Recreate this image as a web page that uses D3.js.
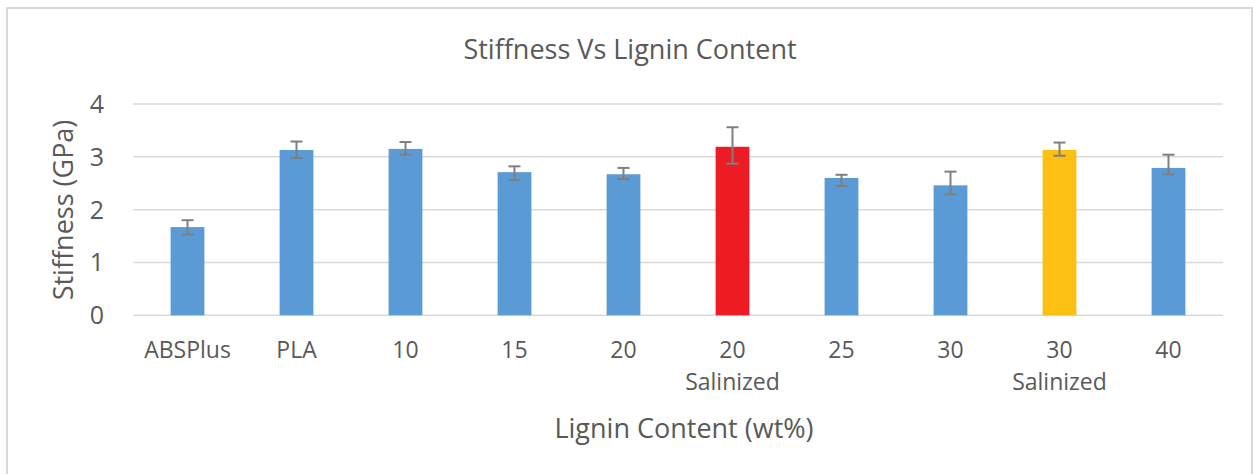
<!DOCTYPE html>
<html>
<head>
<meta charset="utf-8">
<script src="https://cdn.jsdelivr.net/npm/d3@7"></script>
<style>
  body { margin: 0; background: #fff; }
  svg text { font-family: "Open Sans", sans-serif; fill: #595959; }
</style>
</head>
<body>
<div id="chart"></div>
<script>
// data
var categories = ["ABSPlus", "PLA", "10", "15", "20", "20\nSalinized", "25", "30", "30\nSalinized", "40"];
var stiffness = [1.67, 3.13, 3.15, 2.71, 2.67, 3.19, 2.60, 2.46, 3.13, 2.79];
var errPlus   = [0.13, 0.16, 0.13, 0.11, 0.12, 0.37, 0.06, 0.26, 0.14, 0.25];
var errMinus  = [0.14, 0.15, 0.11, 0.15, 0.09, 0.32, 0.15, 0.17, 0.11, 0.12];
var barColors = ["#5B9BD5", "#5B9BD5", "#5B9BD5", "#5B9BD5", "#5B9BD5", "#ED1C24", "#5B9BD5", "#5B9BD5", "#FBC012", "#5B9BD5"];
var yTicks = [0, 1, 2, 3, 4];

var W = 1253, H = 474;
var svg = d3.select("#chart").append("svg").attr("width", W).attr("height", H);

// chart border
svg.append("rect").attr("x", 7).attr("y", 8).attr("width", 1245).attr("height", 480)
  .attr("fill", "none").attr("stroke", "#D9D9D9").attr("stroke-width", 2);

var x = d3.scaleBand().domain(d3.range(categories.length)).range([133, 1223]).paddingInner(0.69).paddingOuter(0.345);
var y = d3.scaleLinear().domain([0, 4]).range([315.3, 104]);

// gridlines
svg.append("g").selectAll("line").data(yTicks).join("line")
  .attr("x1", 133).attr("x2", 1223)
  .attr("y1", d => y(d)).attr("y2", d => y(d))
  .attr("stroke", "#D9D9D9").attr("stroke-width", 1.5);

// y tick labels
svg.append("g").selectAll("text").data(yTicks).join("text")
  .attr("x", 104).attr("y", d => y(d) + 9)
  .attr("text-anchor", "end").style("font-size", "25px")
  .text(d => d);

// bars
svg.append("g").selectAll("rect").data(stiffness).join("rect")
  .attr("x", (d, i) => x(i)).attr("width", x.bandwidth())
  .attr("y", d => y(d)).attr("height", d => y(0) - y(d))
  .attr("fill", (d, i) => barColors[i]);

// error bars
var eb = svg.append("g").attr("stroke", "#7F7F7F").attr("stroke-width", 2);
stiffness.forEach(function(v, i) {
  var cx = x(i) + x.bandwidth() / 2;
  var top = y(v + errPlus[i]), bot = y(v - errMinus[i]);
  eb.append("line").attr("x1", cx).attr("x2", cx).attr("y1", top).attr("y2", bot);
  eb.append("line").attr("x1", cx - 6).attr("x2", cx + 6).attr("y1", top).attr("y2", top);
  eb.append("line").attr("x1", cx - 6).attr("x2", cx + 6).attr("y1", bot).attr("y2", bot);
});

// x category labels
var xl = svg.append("g").selectAll("text").data(categories).join("text")
  .attr("text-anchor", "middle").style("font-size", "23px")
  .attr("transform", (d, i) => "translate(" + (x(i) + x.bandwidth() / 2) + ",358)");
xl.selectAll("tspan").data(d => d.split("\n")).join("tspan")
  .attr("x", 0).attr("dy", (d, j) => j === 0 ? 0 : 32).text(d => d);

// titles
svg.append("text").attr("x", 630).attr("y", 59).attr("text-anchor", "middle")
  .style("font-size", "27px").text("Stiffness Vs Lignin Content");
svg.append("text").attr("x", 684).attr("y", 438).attr("text-anchor", "middle")
  .style("font-size", "27px").text("Lignin Content (wt%)");
svg.append("text").attr("transform", "translate(73,210) rotate(-90)").attr("text-anchor", "middle")
  .style("font-size", "27px").text("Stiffness (GPa)");
</script>
</body>
</html>
